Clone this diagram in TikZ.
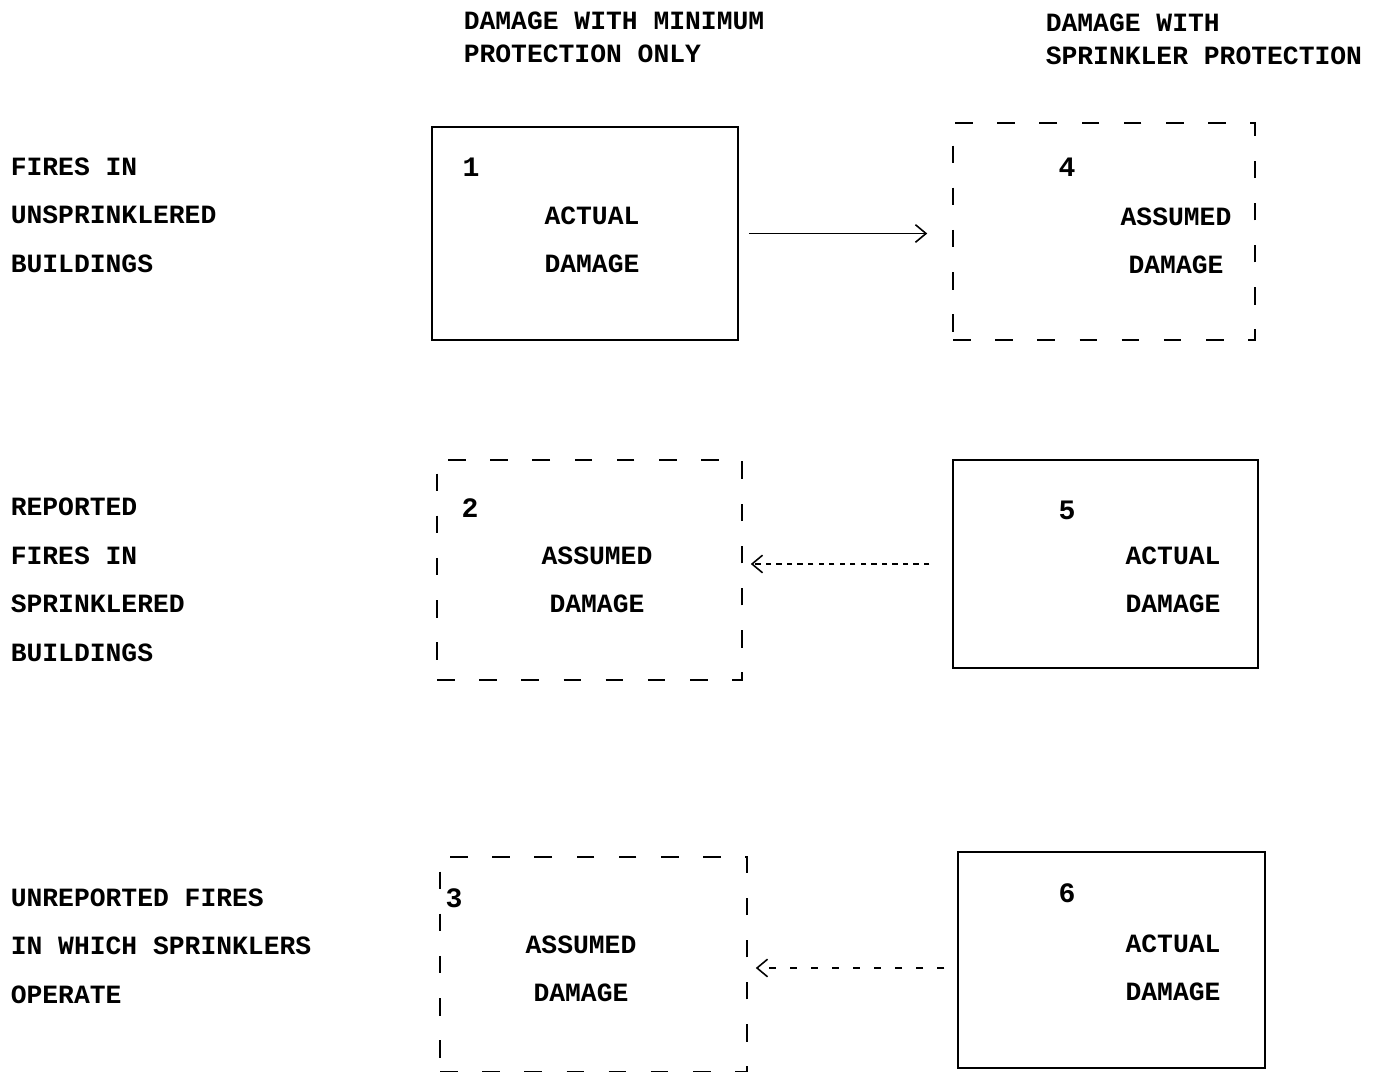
\documentclass[tikz,border=0pt]{standalone}
\usepackage{fontspec}
\setmonofont{Liberation Mono}
\usepackage{tikz}
\usetikzlibrary{positioning, arrows.meta}

\begin{document}
\begin{tikzpicture}[x=0.02cm, y=-0.02cm, line width=0.9pt,
        txt/.style={font=\ttfamily\bfseries\fontsize{15}{27.6}\selectfont, inner sep=0pt},
        hd/.style={font=\ttfamily\bfseries\fontsize{15}{18.7}\selectfont, inner sep=0pt, align=left, anchor=west},
        row/.style={txt, align=left, anchor=west},
        dmg/.style={txt, align=center},
        num/.style={font=\ttfamily\bfseries\fontsize{16}{18}\selectfont, inner sep=0pt},
        actual/.style={draw, minimum width=#1},
        assumed/.style={draw, dash pattern=on 10pt off 14pt, minimum width=#1},
        arr/.style={-{Straight Barb[length=6pt, width=10pt]}}]
        \useasboundingbox (0,0) rectangle (1377,1072);
        % column headings
        \node[hd] (hmin) at (463,37) {DAMAGE WITH MINIMUM\\PROTECTION ONLY};
        \node[hd] (hspr) at (1045,39) {DAMAGE WITH\\SPRINKLER PROTECTION};
        % row headings
        \node[row] (r1) at (10,215) {FIRES IN\\UNSPRINKLERED\\BUILDINGS};
        \node[row] (r2) at (10,580) {REPORTED\\FIRES IN\\SPRINKLERED\\BUILDINGS};
        \node[row] (r3) at (10,946) {UNREPORTED FIRES\\IN WHICH SPRINKLERS\\OPERATE};
        % boxes
        \node[actual=6.12cm, minimum height=4.26cm] (b1) at (585,233.5) {};
        \node[assumed=6.04cm, minimum height=4.34cm] (b4) at (1104,231.5) {};
        \node[assumed=6.1cm, minimum height=4.4cm] (b2) at (589.5,570) {};
        \node[actual=6.1cm, minimum height=4.16cm] (b5) at (1105.5,564) {};
        \node[assumed=6.14cm, minimum height=4.3cm] (b3) at (593.5,964.5) {};
        \node[actual=6.14cm, minimum height=4.32cm] (b6) at (1111.5,960) {};
        \node[num] (n1) at (471,167) {1};
        \node[num] (n4) at (1067,167) {4};
        \node[num] (n2) at (470,508) {2};
        \node[num] (n5) at (1067,510) {5};
        \node[num] (n3) at (454,898) {3};
        \node[num] (n6) at (1067,893) {6};
        \node[dmg] (t1) at (592,240) {ACTUAL\\DAMAGE};
        \node[dmg] (t4) at (1176,241) {ASSUMED\\DAMAGE};
        \node[dmg] (t2) at (597,580) {ASSUMED\\DAMAGE};
        \node[dmg] (t5) at (1173,580) {ACTUAL\\DAMAGE};
        \node[dmg] (t3) at (581,969) {ASSUMED\\DAMAGE};
        \node[dmg] (t6) at (1173,968) {ACTUAL\\DAMAGE};
        % arrows
        \draw[arr, shorten <=0.2cm, shorten >=0.5cm] (b1.east) -- (b4.west |- b1.east);
        \draw[arr, dashed, shorten <=0.46cm, shorten >=0.16cm] (b5.west) -- (b2.east |- b5.west);
        \draw[arr, dash pattern=on 4pt off 8pt, shorten <=0.26cm, shorten >=0.16cm] (b6.west) ++(0,8) coordinate (a6) (a6) -- (b3.east |- a6);
      \end{tikzpicture}
\end{document}
